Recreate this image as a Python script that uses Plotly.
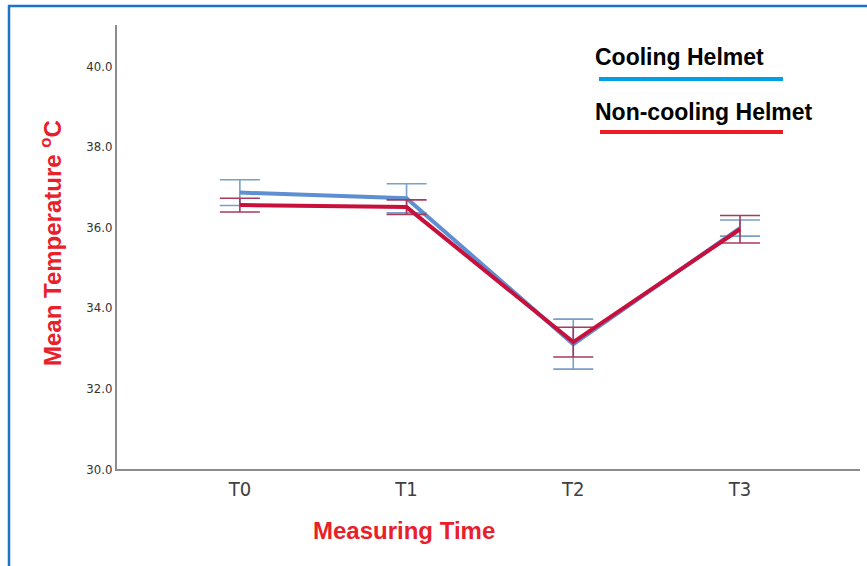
import plotly.graph_objects as go

times = ["T0", "T1", "T2", "T3"]
cooling_mean = [36.86, 36.72, 33.10, 35.98]
cooling_err = [0.32, 0.36, 0.62, 0.20]
noncool_mean = [36.55, 36.50, 33.15, 35.95]
noncool_err = [0.17, 0.18, 0.37, 0.34]
y_ticks = [30, 32, 34, 36, 38, 40]
y_tick_labels = ["30.0", "32.0", "34.0", "36.0", "38.0", "40.0"]

L, R, T, B = 117, 7, 25, 97
W, H = 867, 566
pw, ph = W - L - R, H - T - B

def px(x):
    return (x - L) / pw

def py(y):
    return (H - B - y) / ph

fig = go.Figure()
fig.add_trace(go.Scatter(
    x=times, y=cooling_mean, mode="lines",
    line=dict(color="#5f8fd3", width=4),
    error_y=dict(type="data", array=cooling_err, color="#78a0c8", thickness=1.6, width=20),
    showlegend=False, name="Cooling Helmet"))
fig.add_trace(go.Scatter(
    x=times, y=noncool_mean, mode="lines",
    line=dict(color="#c8103c", width=4),
    error_y=dict(type="data", array=noncool_err, color="#a83a5c", thickness=1.6, width=20),
    showlegend=False, name="Non-cooling Helmet"))

fig.update_layout(
    width=W, height=H,
    margin=dict(l=L, r=R, t=T, b=B, autoexpand=False),
    paper_bgcolor="white", plot_bgcolor="white",
    font=dict(family="Liberation Sans, Arial, sans-serif"),
    xaxis=dict(range=[-0.737, 3.72], showgrid=False, zeroline=False,
               showline=True, linecolor="#8c8c8c", linewidth=2,
               ticks="", ticklabelstandoff=1,
               tickfont=dict(size=20, color="#404040", family="DejaVu Sans Condensed, Liberation Sans")),
    yaxis=dict(range=[30, 41.02], showgrid=False, zeroline=False,
               showline=True, linecolor="#8c8c8c", linewidth=2,
               ticks="", tickvals=y_ticks, ticktext=y_tick_labels,
               tickfont=dict(size=13, color="#333333", family="DejaVu Sans Condensed, DejaVu Sans")),
)

annotations = [
    dict(text="<b>Mean Temperature <sup>o</sup>C</b>", x=px(51), y=py(243), xref="paper", yref="paper",
         xanchor="center", yanchor="middle",
         textangle=-90, showarrow=False, font=dict(size=24, color="#e8202a", family="Liberation Sans, Arial")),
    dict(text="<b>Measuring Time</b>", x=px(404), y=py(530), xref="paper", yref="paper",
         xanchor="center", yanchor="middle",
         showarrow=False, font=dict(size=24, color="#e8202a", family="Liberation Sans, Arial")),
    dict(text="<b>Cooling Helmet</b>", x=px(593), y=py(57), xref="paper", yref="paper",
         xanchor="left", yanchor="middle", showarrow=False,
         font=dict(size=23, color="black", family="Liberation Sans, Arial")),
    dict(text="<b>Non-cooling Helmet</b>", x=px(593), y=py(112), xref="paper", yref="paper",
         xanchor="left", yanchor="middle", showarrow=False,
         font=dict(size=23, color="black", family="Liberation Sans, Arial")),
]
fig.update_layout(annotations=annotations)

shapes = [
    dict(type="line", xref="paper", yref="paper", x0=px(599), x1=px(783), y0=py(79), y1=py(79),
         line=dict(color="#00a0e3", width=4)),
    dict(type="line", xref="paper", yref="paper", x0=px(600), x1=px(783), y0=py(132), y1=py(132),
         line=dict(color="#ee1c25", width=4)),
    dict(type="line", xref="paper", yref="paper", x0=px(9), x1=px(9), y0=py(5), y1=py(570),
         line=dict(color="#1a74c9", width=2.5)),
    dict(type="line", xref="paper", yref="paper", x0=px(8), x1=px(870), y0=py(6), y1=py(6),
         line=dict(color="#1a74c9", width=2.5)),
]
fig.update_layout(shapes=shapes)

fig.write_html("out.html", config={"displayModeBar": False},
               post_script="document.body.style.margin='0';")
